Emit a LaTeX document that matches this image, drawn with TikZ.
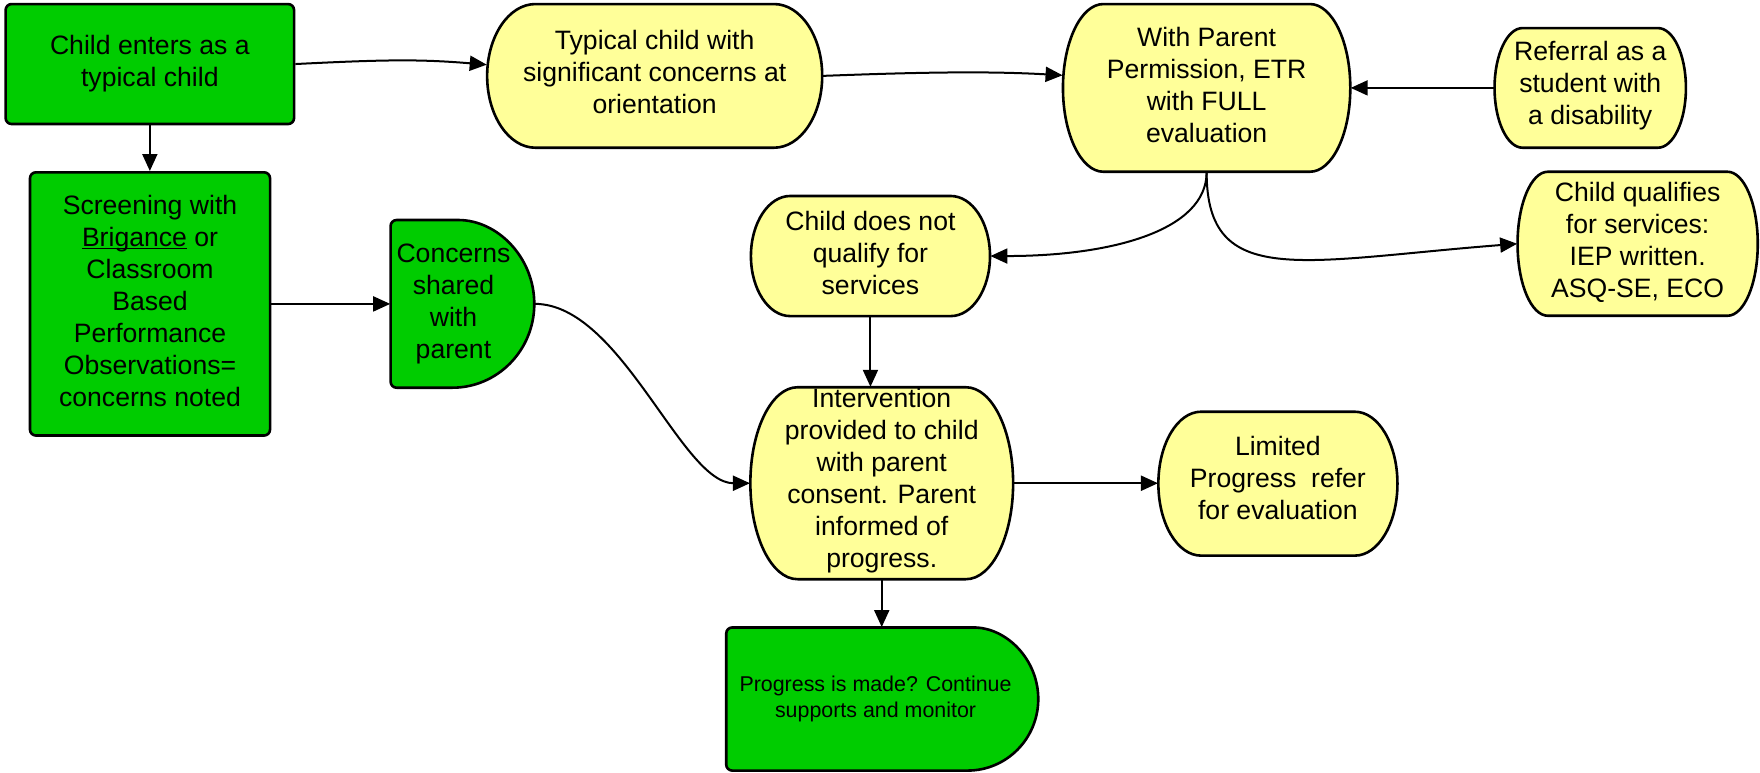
\documentclass[tikz,border=0pt]{standalone}
\usepackage{fontspec}
\setmainfont{Liberation Sans}
\usetikzlibrary{arrows.meta,calc}
\definecolor{grn}{RGB}{0,204,0}
\definecolor{yel}{RGB}{255,255,153}
\def\u{0.5612}
\tikzset{
  shapeline/.style={draw=black, line width=1.3pt, line join=round},
  conn/.style={line width=1pt, -{Triangle[length=8.5pt,width=7.5pt]}},
  txt/.style={inner sep=0pt, font=\fontsize{13.3}{16}\selectfont},
  smalltxt/.style={inner sep=0pt, font=\fontsize{10.7}{12.9}\selectfont},
}
\newsavebox\ulbox
\newcommand\ulword[1]{\sbox\ulbox{#1}\rlap{\rule[-1.4pt]{\wd\ulbox}{0.6pt}}\usebox\ulbox}
\newcommand\lines[2]{\raisebox{#1}[\height][\depth]{\begin{tabular}{@{}c@{}}#2\end{tabular}}}
% oval: name, x0, y0, x1, y1, rx, raise (display units), text
\newcommand\ovalnode[8]{%
  \pgfmathsetmacro\ox{(#2+#4)/2}%
  \pgfmathsetmacro\oy{(#3+#5)/2}%
  \pgfmathsetmacro\ow{(#4-#2)*\u}%
  \pgfmathsetmacro\oh{(#5-#3)*\u}%
  \pgfmathsetmacro\orx{#6*\u}%
  \pgfmathsetmacro\ory{(#5-#3)/2*\u}%
  \pgfmathsetmacro\orai{#7*\u}%
  \path[shapeline, fill=yel] ({#2+#6},#3) -- ({#4-#6},#3)
     arc[start angle=90, end angle=-90, x radius=\orx pt, y radius=\ory pt]
     -- ({#2+#6},#5)
     arc[start angle=270, end angle=90, x radius=\orx pt, y radius=\ory pt] -- cycle;
  \node[txt, minimum width=\ow pt, minimum height=\oh pt] (#1) at (\ox,\oy) {\lines{\orai pt}{#8}};
}
% rectangle: name, x0, y0, x1, y1, raise, text
\newcommand\rectnode[7]{%
  \pgfmathsetmacro\ox{(#2+#4)/2}%
  \pgfmathsetmacro\oy{(#3+#5)/2}%
  \pgfmathsetmacro\ow{(#4-#2)*\u}%
  \pgfmathsetmacro\oh{(#5-#3)*\u}%
  \pgfmathsetmacro\orai{#6*\u}%
  \node[shapeline, fill=grn, rounded corners=3pt, txt, minimum width=\ow pt, minimum height=\oh pt] (#1) at (\ox,\oy) {\lines{\orai pt}{#7}};
}
% D shape: name, x0, y0, x1, y1, rx, kern, font style, text
\newcommand\dnode[9]{%
  \pgfmathsetmacro\ox{(#2+#4)/2}%
  \pgfmathsetmacro\oy{(#3+#5)/2}%
  \pgfmathsetmacro\ow{(#4-#2)*\u}%
  \pgfmathsetmacro\oh{(#5-#3)*\u}%
  \pgfmathsetmacro\orx{#6*\u}%
  \pgfmathsetmacro\ory{(#5-#3)/2*\u}%
  \path[shapeline, fill=grn] ({#4-#6},#3)
     arc[start angle=90, end angle=-90, x radius=\orx pt, y radius=\ory pt]
     [rounded corners=3pt] -- (#2,#5) -- (#2,#3) -- cycle;
  \node[#8, minimum width=\ow pt, minimum height=\oh pt] (#1) at (\ox,\oy)
     {\kern#7pt\begin{tabular}{@{}c@{}}#9\end{tabular}};
}
\begin{document}
\begin{tikzpicture}[x=\u pt, y=-\u pt]
\path[fill=white, use as bounding box] (0,0) rectangle (1568,688);

\rectnode{n1}{5}{3.6}{262}{110.5}{0}{Child enters as a\\typical child}
\rectnode{n2}{26.7}{153.5}{240.6}{388}{0}{Screening with\\\ulword{Brigance} or\\Classroom\\Based\\Performance\\Observations=\\concerns noted}
\dnode{n3}{348}{196}{476}{345.4}{73}{-9}{txt}{Concerns\\shared\\with\\parent}
\ovalnode{n4}{434}{3.6}{732.5}{131.6}{43}{1}{Typical child with\\significant concerns at\\orientation}
\ovalnode{n5}{947}{3.6}{1203}{153}{36}{0}{With Parent\\Permission, ETR\\with FULL\\evaluation}
\ovalnode{n6}{1331.5}{25}{1502}{131.6}{25}{2}{Referral as a\\student with\\a disability}
\ovalnode{n7}{669}{174.6}{882}{281.6}{35}{0}{Child does not\\qualify for\\services}
\ovalnode{n8}{1352}{153}{1566}{281.3}{27}{1}{Child qualifies\\for services:\\IEP written.\\ASQ-SE, ECO}
\ovalnode{n9}{668.5}{345}{902.6}{516}{42}{2}{Intervention\\provided to child\\with parent\\consent. Parent\\informed of\\progress.}
\ovalnode{n10}{1032}{366.8}{1245}{495}{38}{2}{Limited\\Progress\ \ refer\\for evaluation}
\dnode{n11}{647}{559}{925}{686.5}{63}{-6.7}{smalltxt}{Progress is made? Continue\\supports and monitor}

\draw[conn] (n1.east) .. controls +(80,-4) and +(-60,-5) .. ([yshift=5.6pt]n4.west);
\draw[conn] (n1.south) -- (n1.south |- n2.north);
\draw[conn] (n2.east) -- (n2.east -| n3.west);
\draw[conn] (n3.east) .. controls +(77,0) and +(-61,0) .. (n9.west);
\draw[conn] (n4.east) .. controls +(80,-3) and +(-70,-4) .. ([yshift=6.3pt]n5.west);
\draw[conn] (n6.west) -- (n6.west -| n5.east);
\draw[conn] (n5.south) .. controls +(0,52) and +(108,0) .. (n7.east);
\draw[conn] (n5.south) .. controls +(0,105) and +(-192,15) .. (n8.west);
\draw[conn] (n7.south) -- (n7.south |- n9.north);
\draw[conn] (n9.east) -- (n9.east -| n10.west);
\draw[conn] (n9.south) -- (n9.south |- n11.north);
\end{tikzpicture}
\end{document}
